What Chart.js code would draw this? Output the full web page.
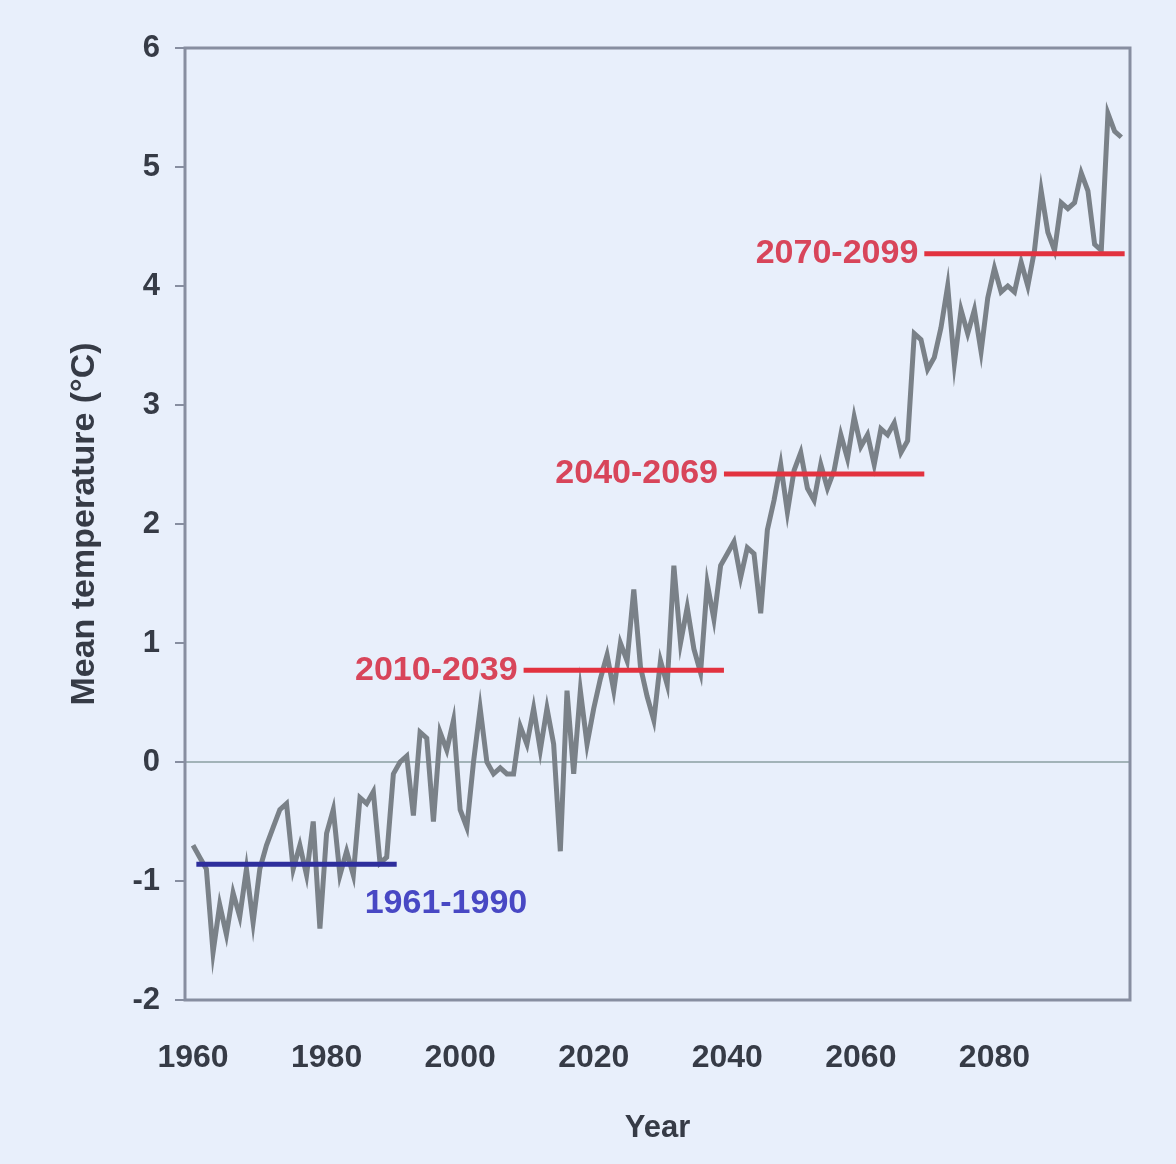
<!DOCTYPE html>
<html>
<head>
<meta charset="utf-8">
<script src="https://cdn.jsdelivr.net/npm/chart.js@4.4.1/dist/chart.umd.min.js"></script>
<style>
  body { margin: 0; background: #e8effb; }
  canvas { display: block; }
</style>
</head>
<body>
<canvas id="chart" width="1176" height="1164"></canvas>
<script>
// yearly mean temperature anomaly, 1960-2099
const years = [
  1960, 1961, 1962, 1963, 1964, 1965, 1966, 1967, 1968, 1969,
  1970, 1971, 1972, 1973, 1974, 1975, 1976, 1977, 1978, 1979,
  1980, 1981, 1982, 1983, 1984, 1985, 1986, 1987, 1988, 1989,
  1990, 1991, 1992, 1993, 1994, 1995, 1996, 1997, 1998, 1999,
  2000, 2001, 2002, 2003, 2004, 2005, 2006, 2007, 2008, 2009,
  2010, 2011, 2012, 2013, 2014, 2015, 2016, 2017, 2018, 2019,
  2020, 2021, 2022, 2023, 2024, 2025, 2026, 2027, 2028, 2029,
  2030, 2031, 2032, 2033, 2034, 2035, 2036, 2037, 2038, 2039,
  2040, 2041, 2042, 2043, 2044, 2045, 2046, 2047, 2048, 2049,
  2050, 2051, 2052, 2053, 2054, 2055, 2056, 2057, 2058, 2059,
  2060, 2061, 2062, 2063, 2064, 2065, 2066, 2067, 2068, 2069,
  2070, 2071, 2072, 2073, 2074, 2075, 2076, 2077, 2078, 2079,
  2080, 2081, 2082, 2083, 2084, 2085, 2086, 2087, 2088, 2089,
  2090, 2091, 2092, 2093, 2094, 2095, 2096, 2097, 2098, 2099
];
const temps = [
  -0.7, -0.8, -0.9, -1.6, -1.2, -1.45, -1.1, -1.3, -0.9, -1.35,
  -0.9, -0.7, -0.55, -0.4, -0.35, -0.9, -0.7, -0.95, -0.5, -1.4,
  -0.6, -0.4, -0.95, -0.75, -0.95, -0.3, -0.35, -0.25, -0.85, -0.8,
  -0.1, 0.0, 0.05, -0.45, 0.25, 0.2, -0.5, 0.25, 0.1, 0.35,
  -0.4, -0.55, 0.0, 0.45, 0.0, -0.1, -0.05, -0.1, -0.1, 0.3,
  0.15, 0.45, 0.1, 0.45, 0.15, -0.75, 0.6, -0.1, 0.6, 0.15,
  0.45, 0.7, 0.9, 0.6, 1.0, 0.85, 1.45, 0.8, 0.55, 0.35,
  0.85, 0.65, 1.65, 1.0, 1.3, 0.95, 0.75, 1.5, 1.2, 1.65,
  1.75, 1.85, 1.55, 1.8, 1.75, 1.25, 1.95, 2.2, 2.5, 2.1,
  2.45, 2.6, 2.3, 2.2, 2.5, 2.3, 2.45, 2.75, 2.55, 2.9,
  2.65, 2.75, 2.5, 2.8, 2.75, 2.85, 2.6, 2.7, 3.6, 3.55,
  3.3, 3.4, 3.65, 4.0, 3.35, 3.8, 3.6, 3.8, 3.45, 3.9,
  4.15, 3.95, 4.0, 3.95, 4.2, 4.0, 4.3, 4.8, 4.45, 4.3,
  4.7, 4.65, 4.7, 4.95, 4.8, 4.35, 4.3, 5.45, 5.3, 5.25
];

// 30-year period means
const periodLabels = ["1961-1990", "2010-2039", "2040-2069", "2070-2099"];
const periodStart = [1961, 2010, 2040, 2070];
const periodEnd = [1990, 2039, 2069, 2099];
const periodMean = [-0.86, 0.77, 2.42, 4.27];
const periodColors = ["#2e2e9c", "#e2323f", "#e2323f", "#e2323f"];
const labelColors = ["#4848c4", "#d8455a", "#d8455a", "#d8455a"];

const xTicks = [1960, 1980, 2000, 2020, 2040, 2060, 2080];
const yMin = -2, yMax = 6;

const fontFamily = "'Liberation Sans', Arial, sans-serif";
const textColor = "#363b46";
const axisColor = "#878ea0";

const seriesPoints = years.map((y, i) => ({ x: y, y: temps[i] }));

const periodSets = periodLabels.map((name, i) => ({
  label: name,
  data: [
    { x: periodStart[i] - 0.5, y: periodMean[i] },
    { x: periodEnd[i] + 0.5, y: periodMean[i] }
  ],
  borderColor: periodColors[i],
  borderWidth: 5,
  pointRadius: 0,
  order: 1
}));

const framePlugin = {
  id: "frame",
  beforeDatasetsDraw(chart) {
    const { ctx, chartArea: a } = chart;
    ctx.save();
    ctx.strokeStyle = axisColor;
    ctx.lineWidth = 3;
    ctx.strokeRect(a.left, a.top, a.right - a.left, a.bottom - a.top);
    ctx.restore();
  }
};

const periodLabelPlugin = {
  id: "periodLabels",
  afterDatasetsDraw(chart) {
    const { ctx, scales } = chart;
    ctx.save();
    ctx.font = "bold 34px " + fontFamily;
    ctx.textBaseline = "middle";
    periodLabels.forEach((name, i) => {
      ctx.fillStyle = labelColors[i];
      if (i === 0) {
        ctx.textAlign = "left";
        ctx.fillText(name, scales.x.getPixelForValue(1985.7), scales.y.getPixelForValue(-1.19));
      } else {
        ctx.textAlign = "right";
        ctx.fillText(name, scales.x.getPixelForValue(periodStart[i] - 0.5) - 6, scales.y.getPixelForValue(periodMean[i]));
      }
    });
    ctx.restore();
  }
};

new Chart(document.getElementById("chart"), {
  type: "line",
  data: {
    datasets: [
      ...periodSets,
      {
        label: "Mean temperature",
        data: seriesPoints,
        borderColor: "#7a8188",
        borderWidth: 5,
        pointRadius: 0,
        tension: 0,
        order: 2
      }
    ]
  },
  options: {
    responsive: false,
    animation: false,
    layout: { padding: { top: 48, right: 46, left: 0, bottom: 0 } },
    plugins: {
      legend: { display: false },
      tooltip: { enabled: false }
    },
    scales: {
      x: {
        type: "linear",
        min: 1958.8,
        max: 2100.3,
        afterBuildTicks(scale) {
          scale.ticks = xTicks.map(v => ({ value: v }));
        },
        afterFit(scale) { scale.height = 164; },
        grid: { display: false, drawTicks: false },
        border: { display: false },
        ticks: {
          padding: 39,
          color: textColor,
          font: { family: fontFamily, size: 32, weight: "bold" },
          callback: v => String(v)
        },
        title: {
          display: true,
          text: "Year",
          color: textColor,
          padding: { top: 0, bottom: 17 },
          font: { family: fontFamily, size: 31, weight: "bold" }
        }
      },
      y: {
        min: yMin,
        max: yMax,
        afterFit(scale) { scale.width = 185; },
        grid: {
          drawTicks: true,
          tickLength: 10,
          tickColor: axisColor,
          lineWidth: 2,
          color: ctx => (ctx.tick && ctx.tick.value === 0 ? "#a2b3b8" : "rgba(0,0,0,0)")
        },
        border: { display: false },
        ticks: {
          stepSize: 1,
          padding: 15,
          color: textColor,
          font: { family: fontFamily, size: 31, weight: "bold" }
        },
        title: {
          display: true,
          text: "Mean temperature (°C)",
          color: textColor,
          padding: { top: 64, bottom: 0 },
          font: { family: fontFamily, size: 34, weight: "bold" }
        }
      }
    }
  },
  plugins: [framePlugin, periodLabelPlugin]
});
</script>
</body>
</html>
